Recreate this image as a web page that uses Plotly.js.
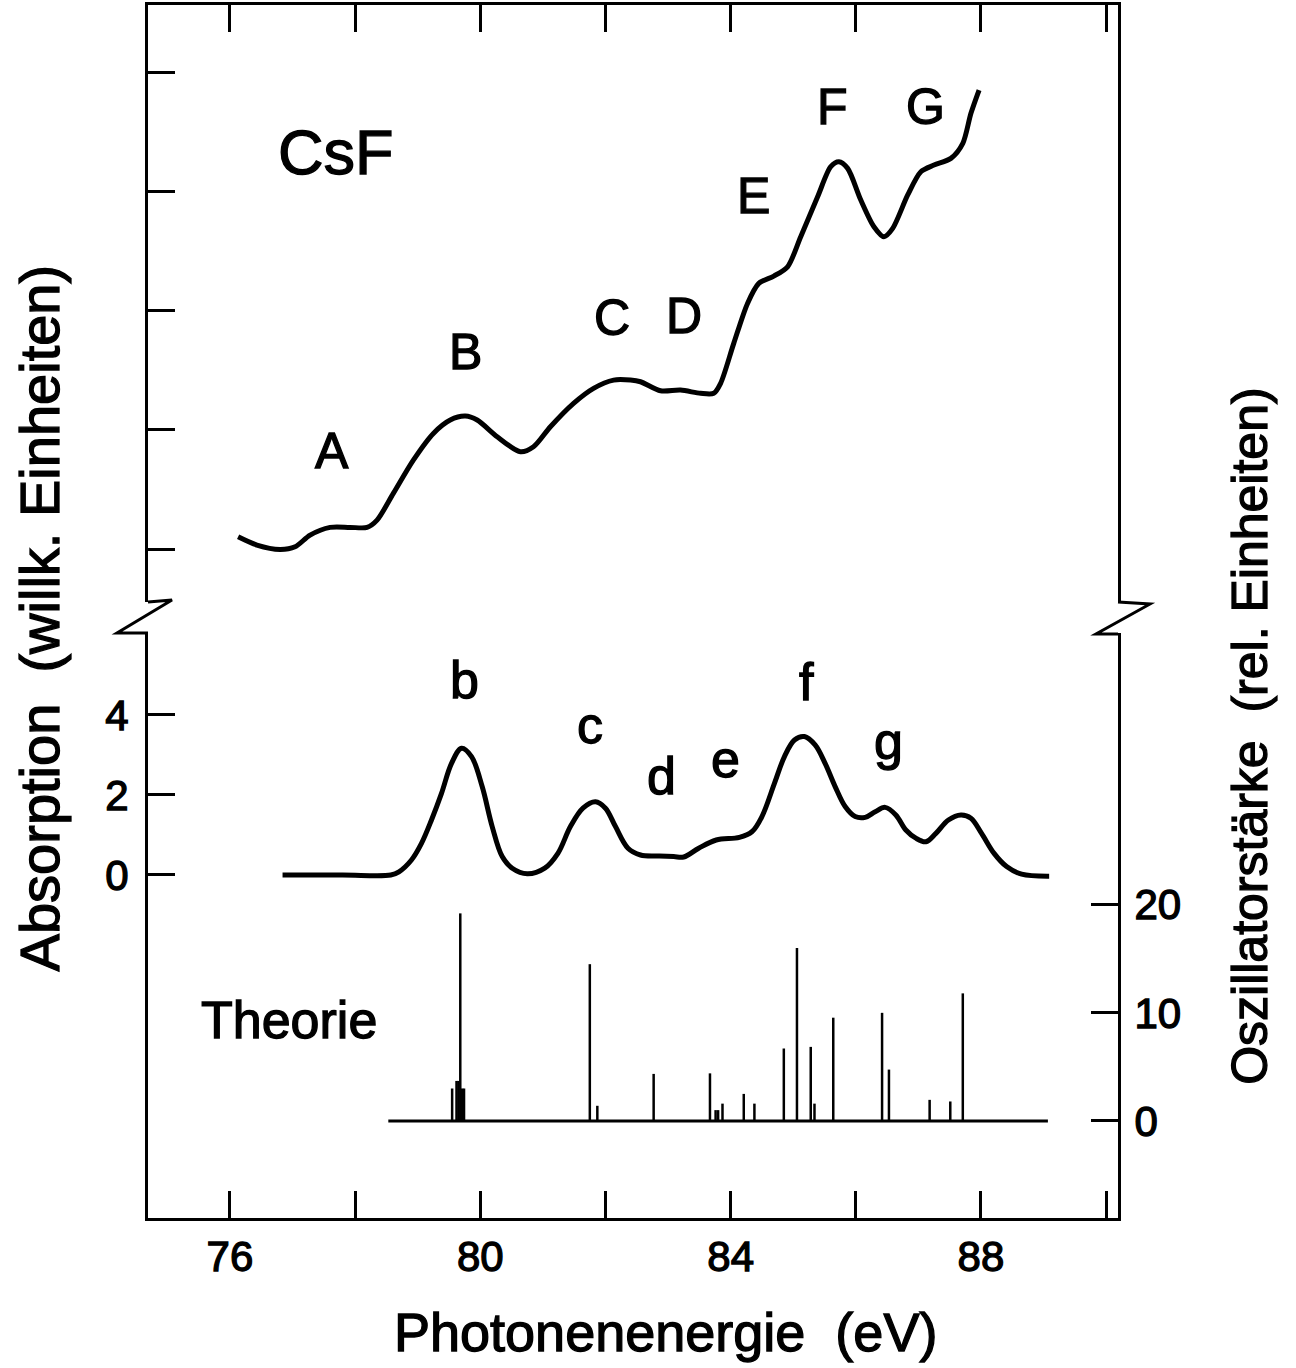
<!DOCTYPE html>
<html>
<head>
<meta charset="utf-8">
<script src="https://cdn.plot.ly/plotly-3.0.1.min.js"></script>
<style>
html,body{margin:0;padding:0;background:#fff;}
#chart{width:1296px;height:1368px;}
#chart svg text{stroke:#000;stroke-width:1.3px;paint-order:stroke;}
</style>
</head>
<body>
<div id="chart"></div>
<script>
// Experimental absorption CsF (upper panel, arbitrary units)
const upperE = [76.13, 76.43, 76.80, 77.04, 77.28, 77.60, 77.92, 78.19, 78.35, 78.61, 78.93, 79.25, 79.52, 79.76, 79.95, 80.27, 80.64, 80.85, 81.12, 81.49, 81.81, 82.13, 82.40, 82.56, 82.88, 83.20, 83.52, 83.73, 83.84, 84.05, 84.27, 84.45, 84.69, 84.91, 85.12, 85.39, 85.60, 85.73, 85.87, 86.08, 86.29, 86.45, 86.59, 86.83, 87.04, 87.25, 87.52, 87.71, 87.84, 87.97];
const upperAbs = [0.103, 0.034, -0.003, 0.019, 0.117, 0.182, 0.182, 0.182, 0.243, 0.467, 0.746, 0.970, 1.082, 1.115, 1.082, 0.942, 0.816, 0.858, 1.026, 1.222, 1.348, 1.417, 1.417, 1.403, 1.327, 1.333, 1.306, 1.306, 1.390, 1.725, 2.060, 2.228, 2.289, 2.367, 2.619, 2.954, 3.206, 3.248, 3.192, 2.927, 2.703, 2.619, 2.689, 2.969, 3.164, 3.220, 3.276, 3.402, 3.654, 3.849];

// Theoretical broadened absorption (lower panel, left axis)
const lowerE = [76.84, 77.80, 78.57, 78.70, 78.90, 79.06, 79.22, 79.38, 79.54, 79.70, 79.86, 80.03, 80.19, 80.35, 80.51, 80.75, 81.03, 81.24, 81.44, 81.64, 81.84, 82.00, 82.16, 82.36, 82.56, 82.85, 83.09, 83.25, 83.49, 83.77, 84.14, 84.34, 84.50, 84.70, 84.86, 85.02, 85.18, 85.35, 85.51, 85.67, 85.83, 85.99, 86.15, 86.31, 86.47, 86.64, 86.80, 86.96, 87.12, 87.28, 87.48, 87.68, 87.84, 88.01, 88.21, 88.41, 88.65, 89.09];
const lowerAbs = [0, 0, 0, 0.08, 0.375, 0.79, 1.375, 2.04, 2.79, 3.17, 2.96, 2.21, 1.21, 0.46, 0.17, 0.03, 0.17, 0.54, 1.21, 1.67, 1.83, 1.67, 1.21, 0.67, 0.5, 0.475, 0.46, 0.45, 0.67, 0.875, 0.94, 1.08, 1.46, 2.29, 2.96, 3.375, 3.46, 3.25, 2.79, 2.21, 1.71, 1.46, 1.44, 1.58, 1.69, 1.5, 1.125, 0.92, 0.83, 1.04, 1.375, 1.5, 1.42, 1.04, 0.54, 0.21, 0.02, -0.03];

// Theory: oscillator strengths (right axis)
const stickE = [79.55, 79.62, 79.65, 79.68, 79.71, 79.74, 81.75, 81.87, 82.77, 83.67, 83.76, 83.80, 83.87, 84.21, 84.38, 84.85, 85.06, 85.28, 85.34, 85.64, 86.42, 86.53, 87.18, 87.51, 87.71];
const stickF = [3.0, 3.7, 3.7, 19.2, 3.0, 3.0, 14.5, 1.4, 4.35, 4.4, 1.0, 1.0, 1.6, 2.5, 1.6, 6.7, 16.0, 6.85, 1.6, 9.55, 10.0, 4.75, 1.95, 1.8, 11.8];
const baselineE = [78.53, 89.07];
const baselineF = [0, 0];

// Tick labels
const xTickVals = [76, 78, 80, 82, 84, 86, 88, 90];
const xTickText = ['76', '', '80', '', '84', '', '88', ''];
const upperTickVals = [0, 1, 2, 3, 4];
const leftTickVals = [0, 2, 4];
const rightTickVals = [0, 10, 20];

// Peak labels
const upperLabels = ['A', 'B', 'C', 'D', 'E', 'F', 'G'];
const upperLabelE = [77.63, 79.76, 82.11, 83.25, 84.37, 85.63, 87.12];
const upperLabelY = [0.82, 1.652, 1.937, 1.954, 2.96, 3.71, 3.71];
const lowerLabels = ['b', 'c', 'd', 'e', 'f', 'g'];
const lowerLabelE = [79.74, 81.76, 82.90, 83.92, 85.22, 86.53];
const lowerLabelY = [4.88, 3.75, 2.48, 2.9, 4.83, 3.35];

const FONT = 'Liberation Sans, Arial, sans-serif';
const INK = '#000';

const sx = [], sy = [];
stickE.forEach((e, i) => { sx.push(e, e, null); sy.push(0, stickF[i], null); });

const traces = [
  {x: upperE, y: upperAbs, xaxis: 'x2', yaxis: 'y', type: 'scatter', mode: 'lines',
   line: {color: INK, width: 5, shape: 'spline', smoothing: 0.8}, hoverinfo: 'skip'},
  {x: lowerE, y: lowerAbs, xaxis: 'x', yaxis: 'y2', type: 'scatter', mode: 'lines',
   line: {color: INK, width: 5, shape: 'spline', smoothing: 1}, hoverinfo: 'skip'},
  {x: baselineE, y: baselineF, xaxis: 'x', yaxis: 'y3', type: 'scatter', mode: 'lines',
   line: {color: INK, width: 3}, hoverinfo: 'skip'},
  {x: sx, y: sy, xaxis: 'x', yaxis: 'y3', type: 'scatter', mode: 'lines',
   line: {color: INK, width: 2.5}, connectgaps: false, hoverinfo: 'skip'}
];

const upperTop = 1.0, upperBot = 0.5078, lowerTop = 0.4823;
const xRange = [74.69, 90.19];

const axisCommon = {showgrid: false, zeroline: false, showline: true, linecolor: INK, linewidth: 3,
  ticks: 'inside', ticklen: 27, tickwidth: 3, tickcolor: INK,
  tickfont: {family: FONT, size: 42, color: INK}};

const annotations = [];
upperLabels.forEach((t, i) => annotations.push({xref: 'x2', yref: 'y', x: upperLabelE[i], y: upperLabelY[i],
  text: t, showarrow: false, font: {family: FONT, size: 50, color: INK}, xanchor: 'center', yanchor: 'middle'}));
lowerLabels.forEach((t, i) => annotations.push({xref: 'x', yref: 'y2', x: lowerLabelE[i], y: lowerLabelY[i],
  text: t, showarrow: false, font: {family: FONT, size: 52, color: INK}, xanchor: 'center', yanchor: 'middle'}));
annotations.push({xref: 'x2', yref: 'y', x: 77.68, y: 3.33, text: 'CsF', showarrow: false,
  font: {family: FONT, size: 63, color: INK}, xanchor: 'center', yanchor: 'middle'});
annotations.push({xref: 'x', yref: 'y3', x: 76.94, y: 9.3, text: 'Theorie', showarrow: false,
  font: {family: FONT, size: 52, color: INK}, xanchor: 'center', yanchor: 'middle'});
annotations.push({xref: 'paper', yref: 'paper', x: 0.534, y: -0.094, text: 'Photonenenergie  (eV)', showarrow: false,
  font: {family: FONT, size: 54, color: INK}, xanchor: 'center', yanchor: 'middle'});
annotations.push({xref: 'paper', yref: 'paper', x: -0.112, y: 0.4946, text: 'Absorption  (willk. Einheiten)', showarrow: false,
  textangle: -90, font: {family: FONT, size: 56, color: INK}, xanchor: 'center', yanchor: 'middle'});
annotations.push({xref: 'paper', yref: 'paper', x: 1.136, y: 0.3974, text: 'Oszillatorstärke  (rel. Einheiten)', showarrow: false,
  textangle: -90, font: {family: FONT, size: 50, color: INK}, xanchor: 'center', yanchor: 'middle'});

// axis break marks (zig-zags) in paper units
const W = 970, H = 1213;
function px(xp) { return (xp - 148) / W; }
function py(yp) { return (1218 - yp) / H; }
const shapes = [
  {type: 'path', xref: 'paper', yref: 'paper',
   path: `M ${px(148)} ${py(602)} L ${px(172)} ${py(600)} L ${px(117)} ${py(633)} L ${px(148)} ${py(633)}`,
   line: {color: INK, width: 3}},
  {type: 'path', xref: 'paper', yref: 'paper',
   path: `M ${px(1118)} ${py(602)} L ${px(1150)} ${py(604)} L ${px(1096)} ${py(634)} L ${px(1118)} ${py(634)}`,
   line: {color: INK, width: 3}}
];

const layout = {
  width: 1296, height: 1368,
  margin: {l: 148, r: 178, t: 5, b: 150, pad: 0},
  paper_bgcolor: '#fff', plot_bgcolor: '#fff',
  showlegend: false,
  font: {family: FONT, color: INK},
  xaxis: Object.assign({}, axisCommon, {domain: [0, 1], range: xRange, anchor: 'y2',
    tickmode: 'array', tickvals: xTickVals, ticktext: xTickText, ticklabelstandoff: 0}),
  xaxis2: Object.assign({}, axisCommon, {domain: [0, 1], range: xRange, anchor: 'y', side: 'top', overlaying: 'x',
    tickmode: 'array', tickvals: xTickVals, showticklabels: false}),
  yaxis: Object.assign({}, axisCommon, {domain: [upperBot, upperTop], range: [-0.444, 4.562], anchor: 'x2', mirror: true,
    tickmode: 'array', tickvals: upperTickVals, showticklabels: false}),
  yaxis2: Object.assign({}, axisCommon, {domain: [0, lowerTop], range: [-8.575, 6.05], anchor: 'x',
    tickmode: 'array', tickvals: leftTickVals, ticklabelstandoff: 8}),
  yaxis3: Object.assign({}, axisCommon, {range: [-8.98, 45.14], anchor: 'x', overlaying: 'y2', side: 'right',
    tickmode: 'array', tickvals: rightTickVals, ticklabelstandoff: 5}),
  annotations: annotations,
  shapes: shapes
};

Plotly.newPlot('chart', traces, layout, {staticPlot: true, displayModeBar: false});
</script>
</body>
</html>
